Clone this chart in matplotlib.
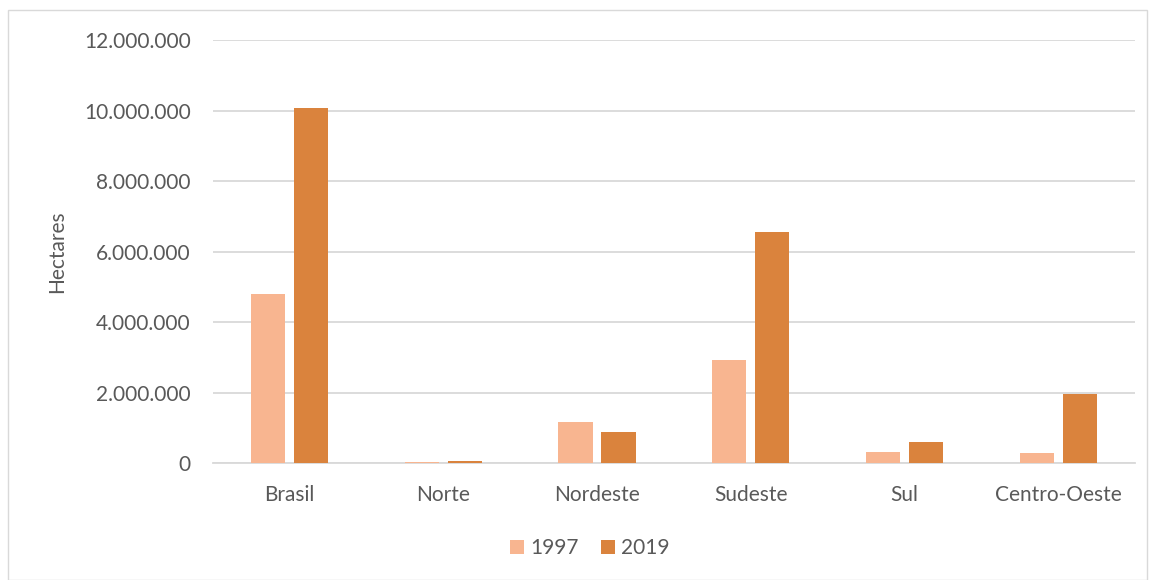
import matplotlib.pyplot as plt
import matplotlib.patches as mpatches
from matplotlib.ticker import FuncFormatter, MultipleLocator
import numpy as np

plt.rcParams["font.family"] = ["Lato", "DejaVu Sans"]

regioes = ["Brasil", "Norte", "Nordeste", "Sudeste", "Sul", "Centro-Oeste"]
area_1997 = [4790000, 20000, 1160000, 2920000, 320000, 290000]
area_2019 = [10080000, 60000, 870000, 6540000, 595000, 1955000]
anos = ["1997", "2019"]

cor_1997 = "#F8B590"
cor_2019 = "#DA833D"
cinza = "#595959"
fs = 15

fig = plt.figure(figsize=(11.5, 5.8), dpi=100)
ax = fig.add_axes([0.185, 0.2017, 0.802, 0.7293])

x = np.arange(len(regioes))
w = 0.222
gap = 0.058
ax.bar(x - (w + gap) / 2, area_1997, width=w, color=cor_1997, label=anos[0], zorder=3)
ax.bar(x + (w + gap) / 2, area_2019, width=w, color=cor_2019, label=anos[1], zorder=3)

ax.set_xlim(-0.5, len(regioes) - 0.5)
ax.set_ylim(0, 12000000)
ax.yaxis.set_major_locator(MultipleLocator(2000000))
ax.yaxis.set_major_formatter(FuncFormatter(lambda v, p: f"{int(v):,}".replace(",", ".")))
ax.grid(axis="y", color="#D9D9D9", lw=1.3, zorder=0)
for s in ["top", "right", "left"]:
    ax.spines[s].set_visible(False)
ax.spines["bottom"].set_color("#D9D9D9")
ax.spines["bottom"].set_linewidth(1.3)
ax.tick_params(length=0, colors=cinza, labelsize=fs)
ax.tick_params(axis="y", pad=16)
ax.tick_params(axis="x", pad=16)
ax.set_xticks(x)
ax.set_xticklabels(regioes)
ax.set_ylabel("Hectares", fontsize=fs, color=cinza, labelpad=12)

# legenda centrada na figura, abaixo do eixo
fig.legend(*ax.get_legend_handles_labels(), loc="center", bbox_to_anchor=(0.513, 0.055),
           ncol=2, frameon=False, fontsize=fs, labelcolor=cinza, handlelength=0.65,
           handleheight=0.65, handletextpad=0.3, columnspacing=1.1)

# moldura do gráfico
fig.patches.append(mpatches.Rectangle((0.007, 0.0), 0.99, 0.982, transform=fig.transFigure,
                                      fill=False, edgecolor="#D9D9D9", lw=1))

fig.savefig("out.png", dpi=100, facecolor="white")
